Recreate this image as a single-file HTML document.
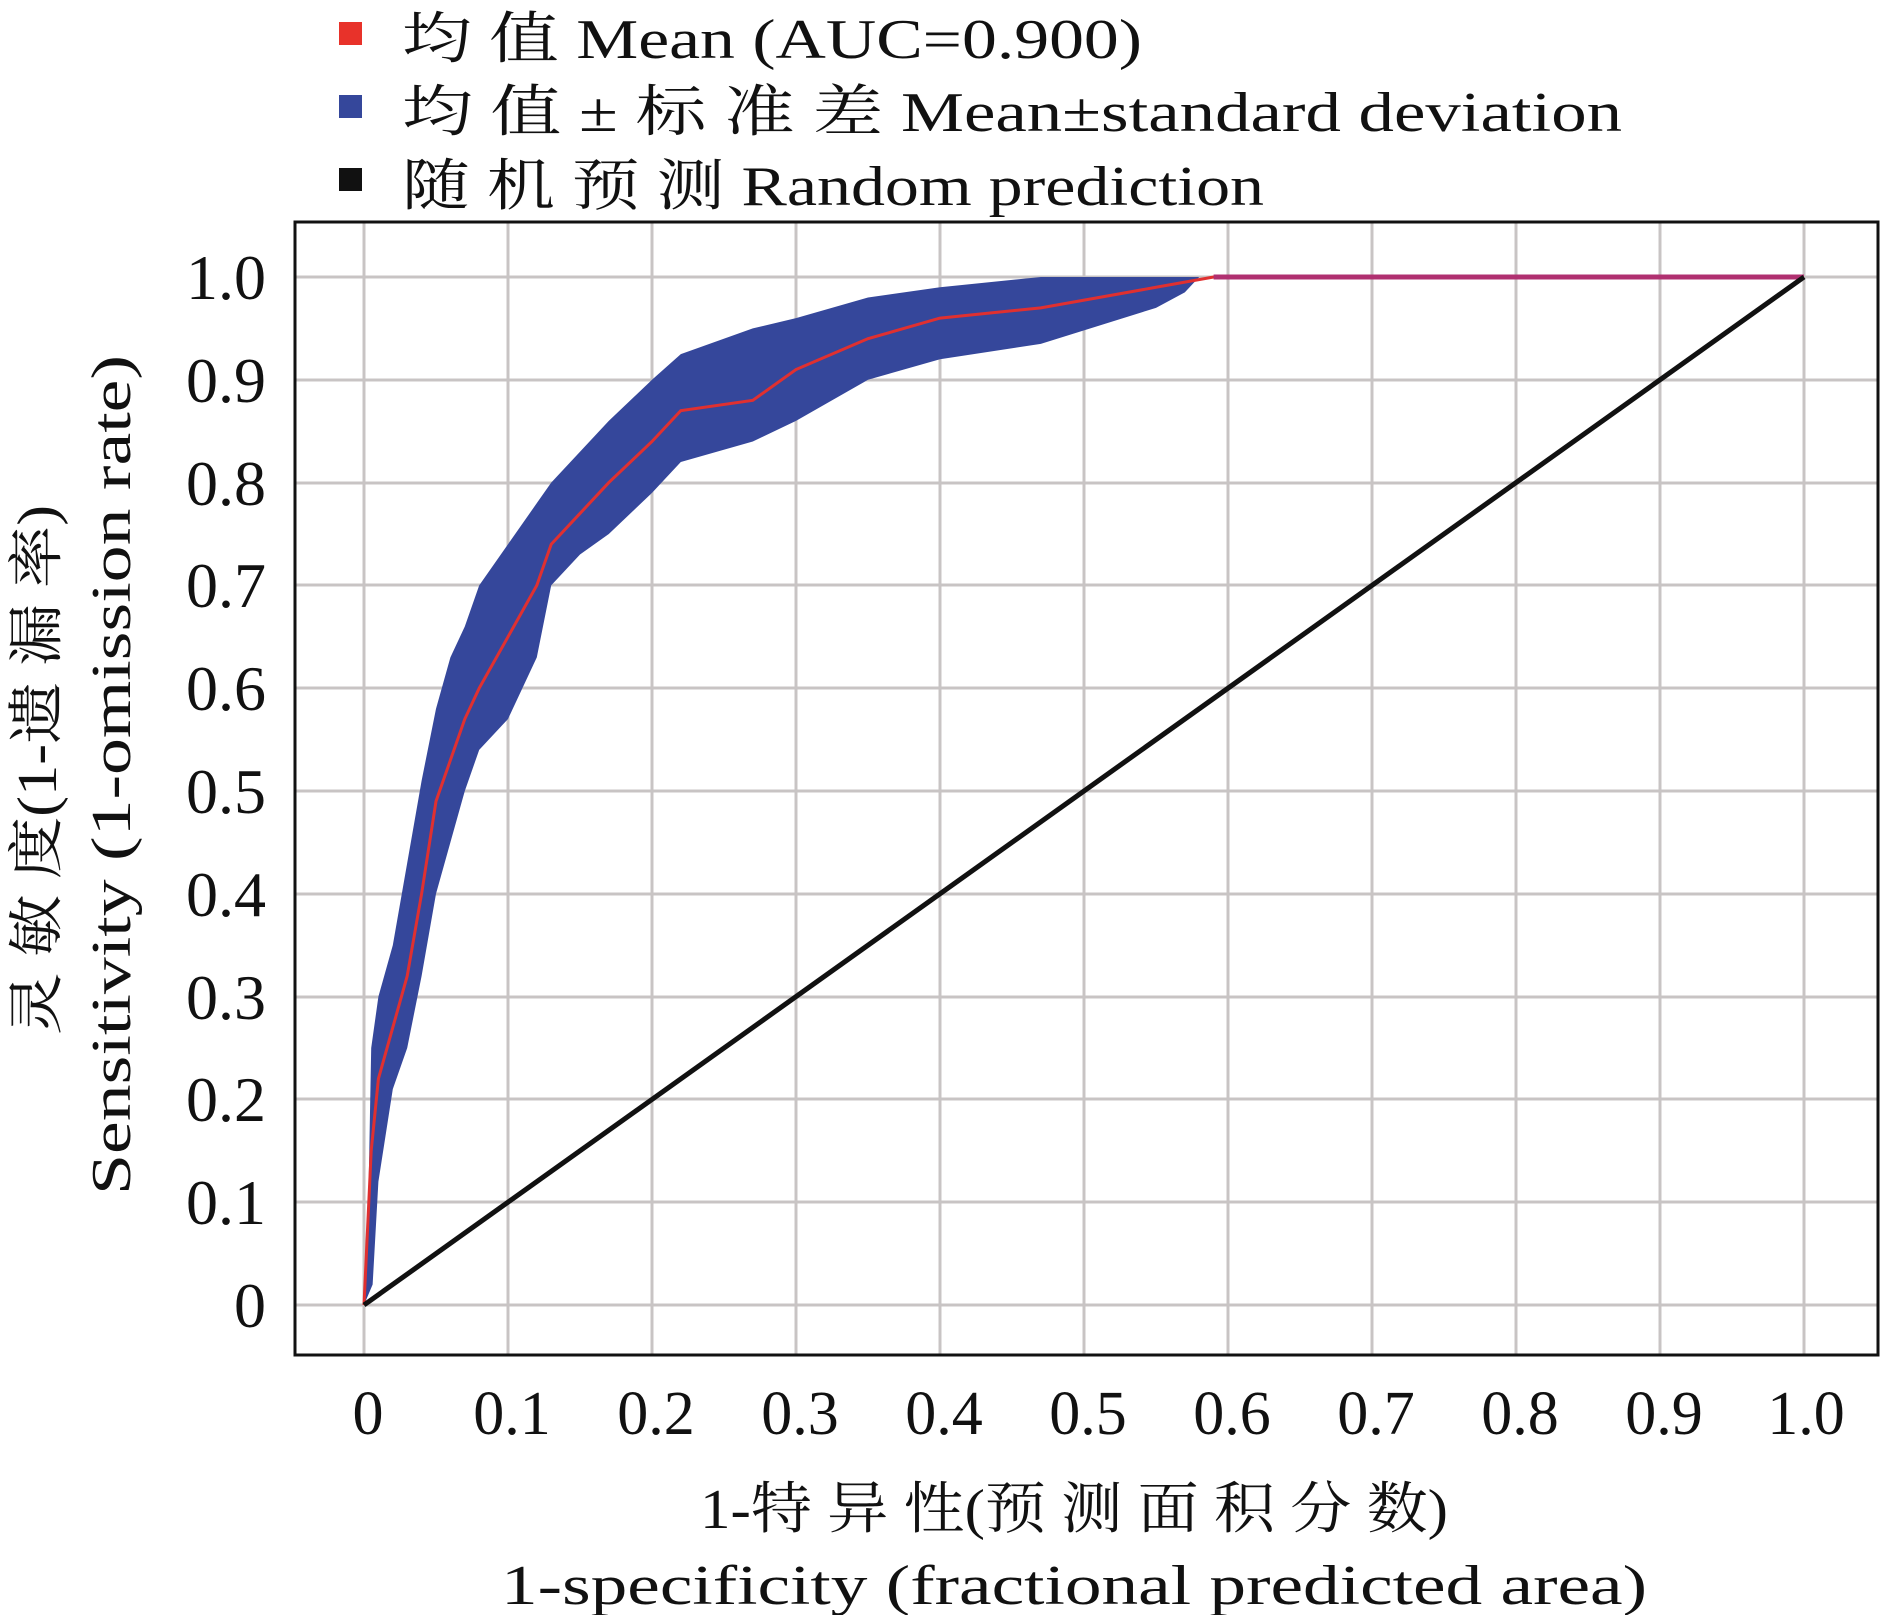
<!DOCTYPE html>
<html><head><meta charset="utf-8"><style>
html,body{margin:0;padding:0;background:#fff;}
svg text{font-family:"Liberation Serif","Noto Serif CJK SC",serif;fill:#111;}
</style></head><body>
<svg width="1882" height="1615" viewBox="0 0 1882 1615" xmlns="http://www.w3.org/2000/svg">
<rect width="1882" height="1615" fill="#fff"/>
<rect x="339" y="22" width="23" height="23" fill="#e8322a"/>
<rect x="339" y="95" width="23" height="23" fill="#35479b"/>
<rect x="339" y="168" width="23" height="23" fill="#111"/>
<text x="402" y="58" font-size="56" textLength="740" lengthAdjust="spacingAndGlyphs">均 值 Mean (AUC=0.900)</text>
<text x="402" y="131" font-size="56" textLength="1220" lengthAdjust="spacingAndGlyphs">均 值 ± 标 准 差 Mean±standard deviation</text>
<text x="402" y="205" font-size="56" textLength="862" lengthAdjust="spacingAndGlyphs">随 机 预 测 Random prediction</text>
<g stroke="#c8c4c4" stroke-width="3">
<line x1="364" y1="222" x2="364" y2="1355"/><line x1="508" y1="222" x2="508" y2="1355"/><line x1="652" y1="222" x2="652" y2="1355"/><line x1="796" y1="222" x2="796" y2="1355"/><line x1="940" y1="222" x2="940" y2="1355"/><line x1="1084" y1="222" x2="1084" y2="1355"/><line x1="1228" y1="222" x2="1228" y2="1355"/><line x1="1372" y1="222" x2="1372" y2="1355"/><line x1="1516" y1="222" x2="1516" y2="1355"/><line x1="1660" y1="222" x2="1660" y2="1355"/><line x1="1804" y1="222" x2="1804" y2="1355"/>
<line x1="295" y1="277" x2="1878" y2="277"/><line x1="295" y1="380" x2="1878" y2="380"/><line x1="295" y1="483" x2="1878" y2="483"/><line x1="295" y1="585" x2="1878" y2="585"/><line x1="295" y1="688" x2="1878" y2="688"/><line x1="295" y1="791" x2="1878" y2="791"/><line x1="295" y1="894" x2="1878" y2="894"/><line x1="295" y1="997" x2="1878" y2="997"/><line x1="295" y1="1099" x2="1878" y2="1099"/><line x1="295" y1="1202" x2="1878" y2="1202"/><line x1="295" y1="1305" x2="1878" y2="1305"/>
</g>
<g transform="translate(364,1305) scale(1440,-1028)">
<path fill="#35479b" stroke="none" d="M0,0 L0.003,0.1 L0.005,0.25 L0.01,0.3 L0.02,0.35 L0.03,0.43 L0.04,0.51 L0.05,0.58 L0.06,0.63 L0.07,0.66 L0.08,0.7 L0.1,0.74 L0.12,0.78 L0.13,0.8 L0.15,0.83 L0.17,0.86 L0.2,0.9 L0.22,0.925 L0.27,0.95 L0.3,0.96 L0.35,0.98 L0.4,0.99 L0.47,1 L0.58,1 L0.58,1 L0.57,0.985 L0.55,0.97 L0.47,0.935 L0.4,0.92 L0.35,0.9 L0.3,0.86 L0.27,0.84 L0.22,0.82 L0.2,0.79 L0.17,0.75 L0.15,0.73 L0.13,0.7 L0.12,0.63 L0.1,0.57 L0.08,0.54 L0.07,0.5 L0.06,0.45 L0.05,0.4 L0.04,0.32 L0.03,0.25 L0.02,0.21 L0.01,0.12 L0.006,0.02 Z"/>
<path fill="none" stroke="#e03030" stroke-width="3" vector-effect="non-scaling-stroke" d="M0,0 L0.005,0.15 L0.01,0.22 L0.02,0.27 L0.03,0.32 L0.04,0.4 L0.05,0.49 L0.06,0.53 L0.07,0.57 L0.08,0.6 L0.1,0.65 L0.12,0.7 L0.13,0.74 L0.15,0.77 L0.17,0.8 L0.2,0.84 L0.22,0.87 L0.27,0.88 L0.3,0.91 L0.35,0.94 L0.4,0.96 L0.47,0.97 L0.55,0.99 L0.59,1 L1,1"/>
<path stroke="#b03070" stroke-width="5" vector-effect="non-scaling-stroke" d="M0.59,1 L1,1"/>
<path stroke="#111" stroke-width="5" vector-effect="non-scaling-stroke" d="M0,0 L1,1"/>
</g>
<rect x="295" y="222" width="1583" height="1133" fill="none" stroke="#111" stroke-width="3"/>
<g font-size="64" text-anchor="end">
<text x="266" y="299">1.0</text><text x="266" y="402">0.9</text><text x="266" y="505">0.8</text><text x="266" y="607">0.7</text><text x="266" y="710">0.6</text><text x="266" y="813">0.5</text><text x="266" y="916">0.4</text><text x="266" y="1019">0.3</text><text x="266" y="1121">0.2</text><text x="266" y="1224">0.1</text><text x="266" y="1327">0</text>
</g>
<g font-size="62" text-anchor="middle">
<text x="368" y="1434">0</text><text x="512" y="1434">0.1</text><text x="656" y="1434">0.2</text><text x="800" y="1434">0.3</text><text x="944" y="1434">0.4</text><text x="1088" y="1434">0.5</text><text x="1232" y="1434">0.6</text><text x="1376" y="1434">0.7</text><text x="1520" y="1434">0.8</text><text x="1664" y="1434">0.9</text><text x="1806" y="1434">1.0</text>
</g>
<text x="1074" y="1528" font-size="56" text-anchor="middle" textLength="748" lengthAdjust="spacingAndGlyphs">1-特 异 性(预 测 面 积 分 数)</text>
<text x="1074" y="1604" font-size="56" text-anchor="middle" textLength="1146" lengthAdjust="spacingAndGlyphs">1-specificity (fractional predicted area)</text>
<text transform="translate(56,770) rotate(-90)" font-size="56" text-anchor="middle" textLength="530" lengthAdjust="spacingAndGlyphs">灵 敏 度(1-遗 漏 率)</text>
<text transform="translate(130,775) rotate(-90)" font-size="56" text-anchor="middle" textLength="840" lengthAdjust="spacingAndGlyphs">Sensitivity (1-omission rate)</text>
</svg>
</body></html>
